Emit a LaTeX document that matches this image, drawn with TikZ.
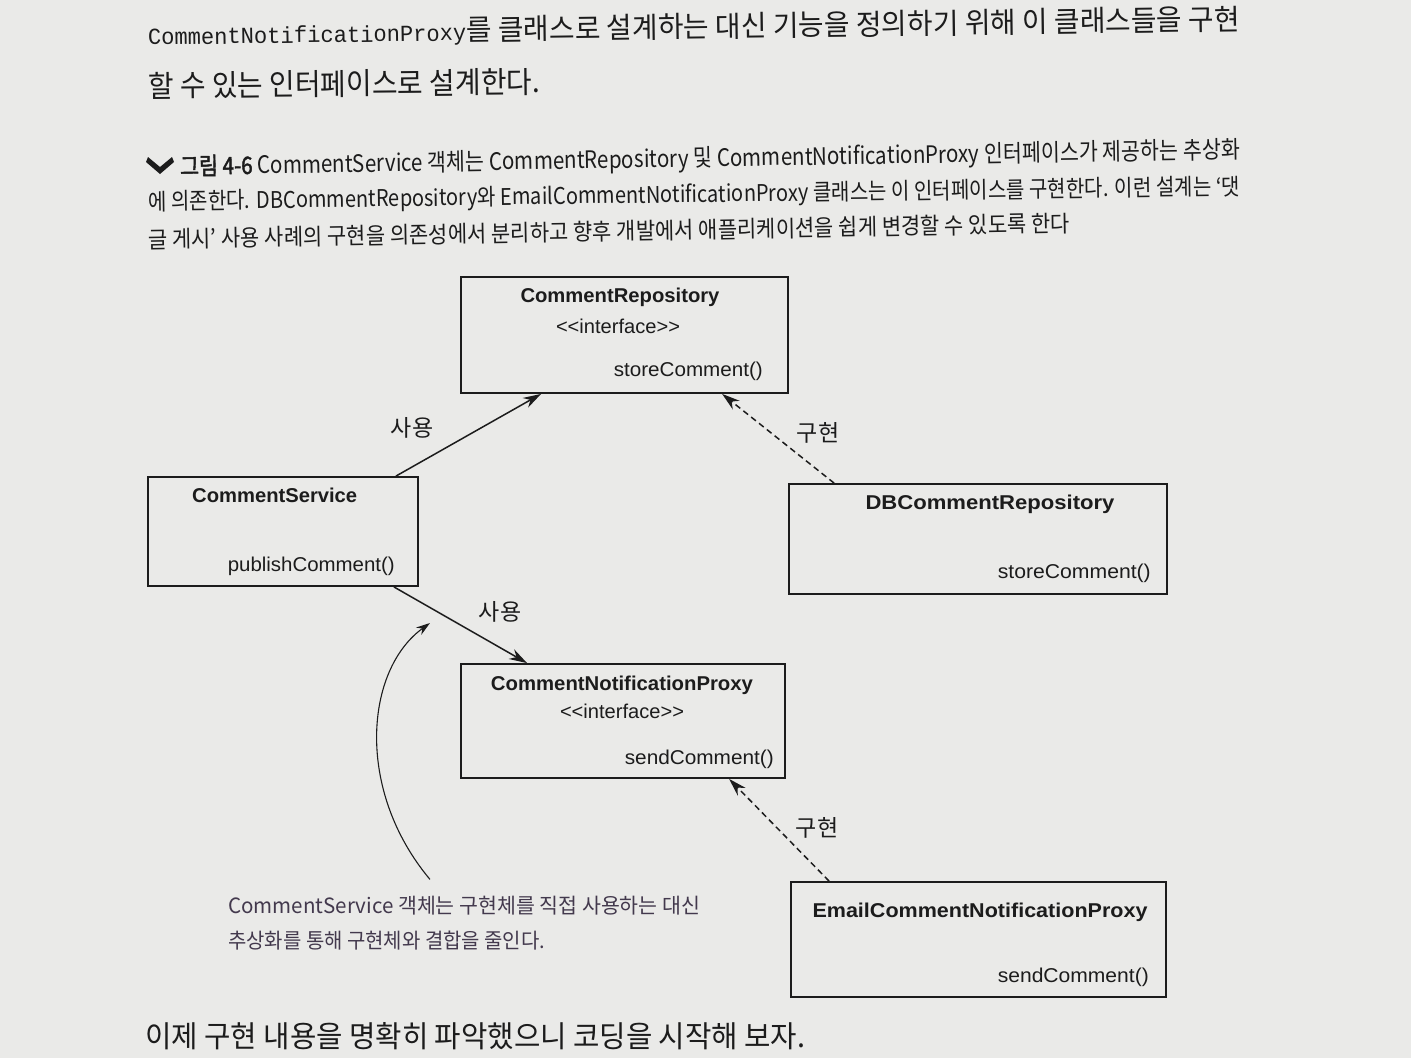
\documentclass[tikz,border=0pt]{standalone}
\usepackage{fontspec}
\usepackage{graphicx}
\setmainfont{Liberation Sans}
\newfontfamily\kr{Noto Sans CJK KR}[AutoFakeBold=2]
\newfontfamily\codefont{Liberation Mono}
\usetikzlibrary{arrows.meta}
\definecolor{paper}{HTML}{EAEAE8}
\definecolor{ink}{HTML}{1C1C1C}
\definecolor{notecol}{HTML}{43394D}
\newcommand\fitto[2]{\resizebox{#1}{\height}{#2}}
\newcommand\ifacetext{{<}{<}interface{>}{>}}
\tikzset{
  umlbox/.style={draw=ink, line width=1.8pt, rectangle, inner sep=0pt},
  cname/.style={font=\fontsize{20}{24}\selectfont\bfseries, text=ink, inner sep=0pt},
  cmeth/.style={font=\fontsize{20}{24}\selectfont, text=ink, inner sep=0pt},
  rel/.style={font=\kr\fontsize{23}{26}\selectfont, text=ink, inner sep=0pt},
  usesarrow/.style={draw=ink, line width=1.5pt, -{Stealth[length=18pt,width=11pt]}},
  implarrow/.style={draw=ink, line width=1.5pt, dash pattern=on 6pt off 4pt, -{Stealth[length=18pt,width=11pt]}},
  bodytext/.style={anchor=base west, inner sep=0pt, text=ink},
}
\begin{document}
\begin{tikzpicture}[x=1pt, y=-1pt]
\fill[paper] (0,0) rectangle (1411,1058);
\useasboundingbox (0,0) rectangle (1411,1058);

% body text above
\node[bodytext, rotate=0.8] (l1) at (148,45) {\fitto{1092pt}{{\codefont\fontsize{23}{26}\selectfont CommentNotificationProxy}{\kr\fontsize{29}{32}\selectfont 를 클래스로 설계하는 대신 기능을 정의하기 위해 이 클래스들을 구현}}};
\node[bodytext, rotate=0.6] (l2) at (148,97) {\fitto{392pt}{\kr\fontsize{30}{32}\selectfont 할 수 있는 인터페이스로 설계한다.}};

% caption
\fill[ink] (148,157) -- (160,167) -- (172,157) -- (174,162) -- (160,174) -- (146,162) -- cycle;
\node[bodytext, rotate=0.9] (c1) at (180,175) {\fitto{1060pt}{\kr\fontsize{24}{26}\selectfont {\bfseries 그림 4-6} CommentService 객체는 CommentRepository 및 CommentNotificationProxy 인터페이스가 제공하는 추상화}};
\node[bodytext, rotate=0.8] (c2) at (148,210) {\fitto{1092pt}{\kr\fontsize{23}{26}\selectfont 에 의존한다. DBCommentRepository와 EmailCommentNotificationProxy 클래스는 이 인터페이스를 구현한다. 이런 설계는 ‘댓}};
\node[bodytext, rotate=1.0] (c3) at (148,248) {\fitto{922pt}{\kr\fontsize{23}{26}\selectfont 글 게시’ 사용 사례의 구현을 의존성에서 분리하고 향후 개발에서 애플리케이션을 쉽게 변경할 수 있도록 한다}};

% classes
\node[umlbox, minimum width=327pt, minimum height=116pt] (repo) at (624.5,335) {};
\node[cname] (repoT) at (620,297) {\fitto{199pt}{CommentRepository}};
\node[cmeth] (repoS) at (618,326) {\fitto{124pt}{\ifacetext}};
\node[cmeth, anchor=east] (repoM) at (763,371) {\fitto{149pt}{storeComment()}};

\node[umlbox, minimum width=270pt, minimum height=109pt] (svc) at (283,531.5) {};
\node[cname, anchor=west] (svcT) at (192,495) {\fitto{165pt}{CommentService}};
\node[cmeth, anchor=east] (svcM) at (395,566) {\fitto{167pt}{publishComment()}};

\node[umlbox, minimum width=378pt, minimum height=110pt] (db) at (978,539) {};
\node[cname] (dbT) at (990,504) {\fitto{249pt}{DBCommentRepository}};
\node[cmeth, anchor=east] (dbM) at (1151,573) {\fitto{153pt}{storeComment()}};

\node[umlbox, minimum width=324pt, minimum height=114pt] (cnp) at (623,721) {};
\node[cname] (cnpT) at (622,685) {\fitto{262pt}{CommentNotificationProxy}};
\node[cmeth] (cnpS) at (622,711) {\fitto{124pt}{\ifacetext}};
\node[cmeth, anchor=east] (cnpM) at (774,759) {\fitto{149pt}{sendComment()}};

\node[umlbox, minimum width=375pt, minimum height=115pt] (email) at (978.5,939.5) {};
\node[cname] (emailT) at (980,912) {\fitto{335pt}{EmailCommentNotificationProxy}};
\node[cmeth, anchor=east] (emailM) at (1149,977) {\fitto{151pt}{sendComment()}};

% relations
\draw[usesarrow] ([xshift=-23pt]svc.north east) -- ([xshift=81pt]repo.south west);
\node[rel] (u1) at (412,428) {사용};
\draw[implarrow] ([xshift=46pt]db.north west) -- ([xshift=262pt]repo.south west);
\node[rel] (i1) at (818,433) {구현};
\draw[usesarrow] ([xshift=-25pt]svc.south east) -- ([xshift=67pt]cnp.north west);
\node[rel] (u2) at (500,612) {사용};
\draw[implarrow] ([xshift=39pt]email.north west) -- ([xshift=269pt]cnp.south west);
\node[rel] (i2) at (817,828) {구현};

% annotation
\node[bodytext, text=notecol] (note1) at (228,913) {\fitto{472pt}{\kr\fontsize{21}{24}\selectfont CommentService 객체는 구현체를 직접 사용하는 대신}};
\node[bodytext, text=notecol] (note2) at (228,948) {\fitto{317pt}{\kr\fontsize{21}{24}\selectfont 추상화를 통해 구현체와 결합을 줄인다.}};
\coordinate (notetip) at (430,623);
\draw[ink, line width=1.1pt, -{Stealth[length=14pt,width=9pt]}] ([xshift=202pt,yshift=16pt]note1.north west) .. controls (355,790) and (365,670) .. (notetip);

% body text below
\node[bodytext] (l3) at (145,1047) {\fitto{660pt}{\kr\fontsize{30}{32}\selectfont 이제 구현 내용을 명확히 파악했으니 코딩을 시작해 보자.}};
\end{tikzpicture}
\end{document}
